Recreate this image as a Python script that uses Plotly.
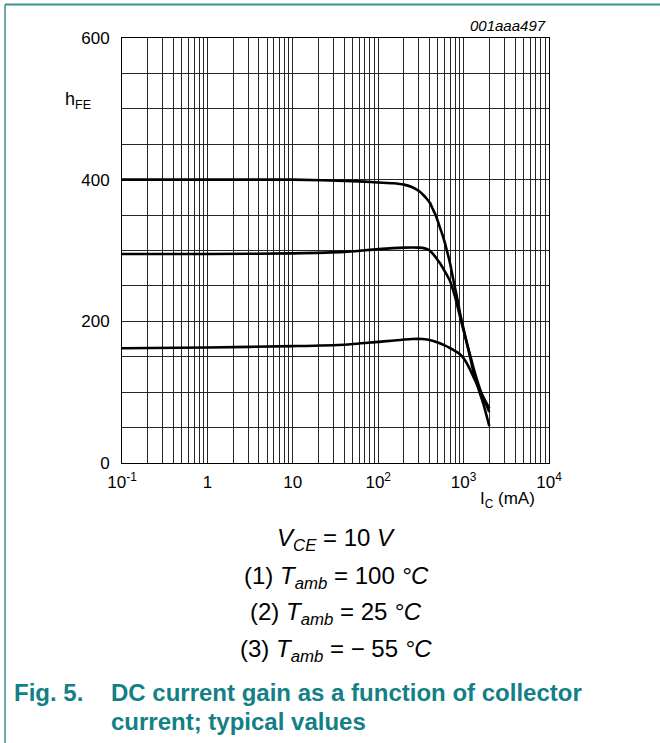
import plotly.graph_objects as go

# ---- data ----
ic_100 = [0.1, 1, 10, 50, 100, 150, 200, 255, 300, 340, 370, 404, 430, 470, 530, 580, 634, 700,
          760, 830, 907, 1000, 1087, 1200, 1300, 1500, 1700, 2000]
hfe_100 = [400, 400, 400, 398, 396, 395, 393, 389, 384, 378, 373, 367, 360, 350, 332, 318, 301, 280,
           258, 236, 212, 189, 170, 148, 129, 104, 84, 52]

ic_25 = [0.1, 1, 10, 40, 100, 200, 300, 350, 400, 440, 480, 530, 600, 693, 793, 907, 1000, 1040,
         1200, 1300, 1560, 1800, 2000]
hfe_25 = [295, 295, 296, 298, 302, 304, 304, 303, 300, 295, 289, 282, 271, 257, 235, 207, 187, 179,
          151, 135, 104, 85, 72]

ic_m55 = [0.1, 1, 10, 40, 100, 250, 330, 420, 500, 600, 700, 800, 900, 1000, 1100, 1200, 1300,
          1500, 1700, 2000]
hfe_m55 = [162, 163, 165, 167, 171, 175, 175, 173, 170, 166, 162, 158, 154, 148, 140, 131, 122,
           106, 93, 77]

curve_labels = ["(1)", "(2)", "(3)"]
label_pos = [(20, 417), (20, 312), (20, 185)]  # (Ic, hFE) where the curve labels sit

x_tick_vals = [0.1, 1, 10, 100, 1000, 10000]
x_tick_text = ["10<sup>-1</sup>", "1", "10", "10<sup>2</sup>", "10<sup>3</sup>", "10<sup>4</sup>"]
y_tick_vals = [0, 200, 400, 600]

FONT = "Liberation Sans, Arial, sans-serif"
TEAL = "#137f86"

fig = go.Figure()
for xs, ys in [(ic_100, hfe_100), (ic_25, hfe_25), (ic_m55, hfe_m55)]:
    fig.add_trace(go.Scatter(x=xs, y=ys, mode="lines",
                             line=dict(color="black", width=2.6, shape="spline", smoothing=0.6),
                             showlegend=False, hoverinfo="skip"))

for txt, (xv, yv) in zip(curve_labels, label_pos):
    fig.add_annotation(x=xv, y=yv, xref="x", yref="y", text=txt, showarrow=False,
                       font=dict(family=FONT, size=14, color="black"),
                       bgcolor="white", borderpad=1, xanchor="center", yanchor="middle")

grid = "#262626"
fig.update_xaxes(type="log", range=[-1, 4], tickvals=x_tick_vals, ticktext=x_tick_text,
                 showgrid=True, gridcolor=grid, gridwidth=1, ticks="",
                 minor=dict(dtick="D1", showgrid=True, gridcolor=grid, gridwidth=1, ticks=""),
                 showline=True, linecolor="black", linewidth=1, mirror=True,
                 tickfont=dict(family=FONT, size=17, color="black"), zeroline=False,
                 ticklabelstandoff=4)
fig.update_yaxes(range=[0, 600], tickvals=y_tick_vals,
                 showgrid=True, gridcolor=grid, gridwidth=1, ticks="",
                 minor=dict(dtick=50, showgrid=True, gridcolor=grid, gridwidth=1, ticks=""),
                 showline=True, linecolor="black", linewidth=1, mirror=True,
                 tickfont=dict(family=FONT, size=17, color="black"), zeroline=False,
                 ticklabelstandoff=8)

W, H = 660, 743
L, R, T, B = 122, 549, 38, 463
pw, ph = R - L, B - T

def px(xp):
    return (xp - L) / pw

def py(yp):
    return (B - yp) / ph

ann = []
ann.append(dict(x=px(548), y=py(25), text="<i>001aaa497</i>", xanchor="right", yanchor="middle",
                font=dict(family=FONT, size=15, color="black")))
ann.append(dict(x=px(63), y=py(101), text="h<sub>FE</sub>", xanchor="left", yanchor="middle",
                font=dict(family=FONT, size=18, color="black")))
ann.append(dict(x=px(537), y=py(500), text="I<sub>C</sub> (mA)", xanchor="right", yanchor="middle",
                font=dict(family=FONT, size=17, color="black")))

cond = [("<i>V</i><sub><i>CE</i></sub> = 10 <i>V</i>", 539),
        ("(1) <i>T</i><sub><i>amb</i></sub> = 100 <i>°C</i>", 577),
        ("(2) <i>T</i><sub><i>amb</i></sub> = 25 <i>°C</i>", 613),
        ("(3) <i>T</i><sub><i>amb</i></sub> = − 55 <i>°C</i>", 650)]
for t, yp in cond:
    ann.append(dict(x=px(336), y=py(yp), text=t, xanchor="center", yanchor="middle",
                    font=dict(family=FONT, size=24, color="black")))

ann.append(dict(x=px(12), y=py(692), text="<b>Fig. 5.</b>", xanchor="left", yanchor="middle",
                font=dict(family=FONT, size=24, color=TEAL)))
ann.append(dict(x=px(109), y=py(692), text="<b>DC current gain as a function of collector</b>",
                xanchor="left", yanchor="middle", font=dict(family=FONT, size=24, color=TEAL)))
ann.append(dict(x=px(109), y=py(721), text="<b>current; typical values</b>",
                xanchor="left", yanchor="middle", font=dict(family=FONT, size=24, color=TEAL)))
for a in ann:
    a.update(xref="paper", yref="paper", showarrow=False)
    fig.add_annotation(**a)

# frame lines of the figure box
fig.add_shape(type="line", xref="paper", yref="paper", x0=px(5), x1=px(660), y0=py(4.5), y1=py(4.5),
              line=dict(color="#3b9096", width=2))
fig.add_shape(type="line", xref="paper", yref="paper", x0=px(5), x1=px(5), y0=py(4.5), y1=py(743),
              line=dict(color="#3b9096", width=1.5))

fig.update_layout(width=W, height=H, margin=dict(l=L, r=W - R, t=T, b=H - B, autoexpand=False),
                  plot_bgcolor="white", paper_bgcolor="white", showlegend=False)

fig.write_html("out.html")
